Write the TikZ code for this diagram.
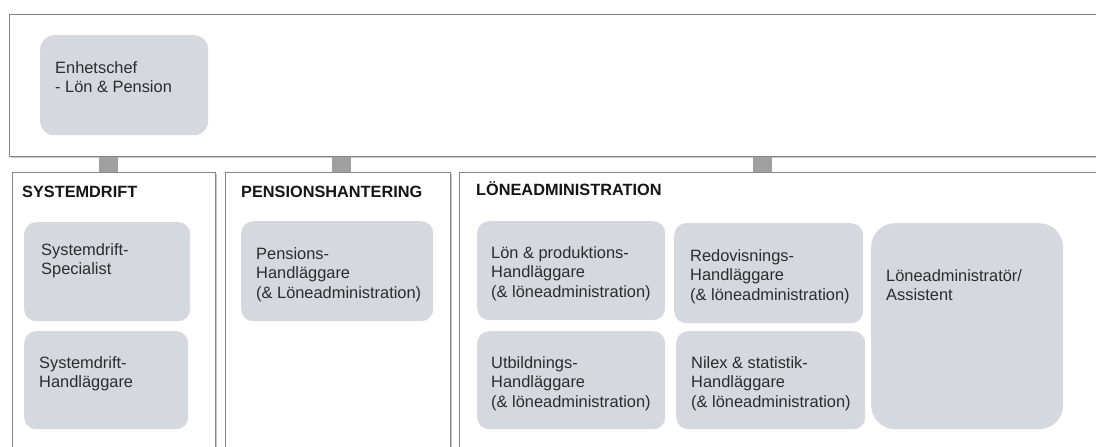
\documentclass[tikz,border=0pt]{standalone}
\usepackage{fontspec}
\setmainfont{Liberation Sans}
\usetikzlibrary{shadows}
\definecolor{boxfill}{HTML}{D5D8DE}
\definecolor{framecol}{HTML}{858585}
\definecolor{conncol}{HTML}{A0A0A0}
\definecolor{txtcol}{HTML}{2C2C2C}
\definecolor{hdrcol}{HTML}{151515}
\newcommand\btext[5]{\parbox[t][#2pt][t]{#1pt}{\leftskip=#3pt\relax\rule{0pt}{#4pt}#5}}
\begin{document}
\begin{tikzpicture}[x=1pt,y=-1pt,
  frame/.style={draw=framecol, line width=1.3pt, fill=white, inner sep=0pt, anchor=north west,
    drop shadow={shadow xshift=1.6pt, shadow yshift=-1.6pt, opacity=0.4, fill=black!55}},
  gbox/.style={fill=boxfill, inner sep=0pt, anchor=north west, rounded corners=12pt, text=txtcol,
    font=\fontsize{16.4pt}{19.5pt}\selectfont},
  hdr/.style={anchor=base west, inner sep=0pt, font=\bfseries\fontsize{16.3pt}{19pt}\selectfont, text=hdrcol},
  conn/.style={draw=conncol, line width=19pt}]
\useasboundingbox (0,0) rectangle (1096,447);
\clip (0,0) rectangle (1096,447);
\fill[white] (0,0) rectangle (1096,447);
% frames
\node[frame, minimum width=1200pt, minimum height=142pt] (top) at (9,14) {};
\node[frame, minimum width=203pt, minimum height=300pt] (sys) at (12,172) {};
\node[frame, minimum width=225pt, minimum height=300pt] (pen) at (225,172) {};
\node[frame, minimum width=700pt, minimum height=300pt] (lon) at (459,172) {};
% connectors
\coordinate (c1) at (108,0);
\coordinate (c2) at (341,0);
\coordinate (c3) at (762,0);
\draw[conn] (top.south -| c1) -- (sys.north -| c1);
\draw[conn] (top.south -| c2) -- (pen.north -| c2);
\draw[conn] (top.south -| c3) -- (lon.north -| c3);
% headers
\node[hdr] (hsys) at (22,197) {SYSTEMDRIFT};
\node[hdr] (hpen) at (241,197) {PENSIONSHANTERING};
\node[hdr] (hlon) at (476,195) {LÖNEADMINISTRATION};
% boxes
\node[gbox, rounded corners=14pt] (ench) at (40,35) {\btext{168}{100}{15}{38}{Enhetschef\\- Lön \& Pension}};
\node[gbox] (spec) at (24,222) {\btext{166}{99}{17}{33}{Systemdrift-\\Specialist}};
\node[gbox] (shand) at (24,331) {\btext{164}{98}{15}{37}{Systemdrift-\\Handläggare}};
\node[gbox] (phand) at (241,221) {\btext{192}{100}{15}{38}{Pensions-\\Handläggare\\(\& Löneadministration)}};
\node[gbox] (lonp) at (477,221) {\btext{188}{99}{14}{37}{Lön \& produktions-\\Handläggare\\(\& löneadministration)}};
\node[gbox] (redo) at (674,223) {\btext{189}{100}{16}{38}{Redovisnings-\\Handläggare\\(\& löneadministration)}};
\node[gbox, rounded corners=24pt] (ladm) at (871,223) {\btext{192}{206}{15}{58}{Löneadministratör/\\Assistent}};
\node[gbox] (utb) at (477,331) {\btext{188}{98}{14}{37}{Utbildnings-\\Handläggare\\(\& löneadministration)}};
\node[gbox] (nilex) at (676,331) {\btext{189}{98}{15}{37}{Nilex \& statistik-\\Handläggare\\(\& löneadministration)}};
\end{tikzpicture}
\end{document}
